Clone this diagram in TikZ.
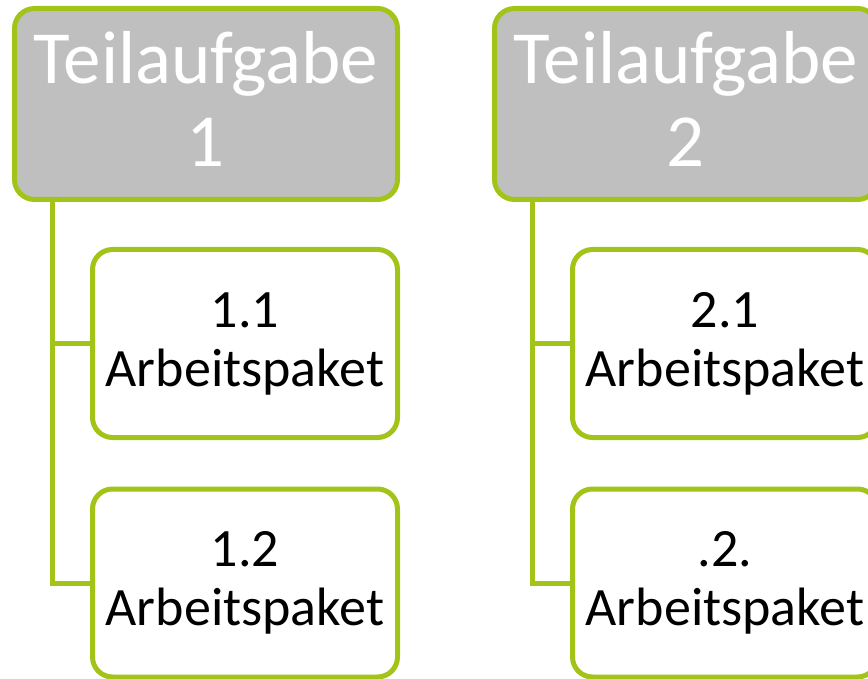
\documentclass[tikz,border=0pt]{standalone}
\usepackage{fontspec}
\setmainfont{Carlito}
\definecolor{leaf}{RGB}{162,196,24}
\definecolor{boxgray}{RGB}{191,191,191}
\begin{document}
\begin{tikzpicture}[x=1pt,y=1pt,
  topbox/.style={draw=leaf, line width=5pt, fill=boxgray, rounded corners=20pt,
    minimum width=383pt, minimum height=191pt, inner sep=0pt, outer sep=0pt},
  toptext/.style={align=center, text=white, inner sep=0pt, font=\fontsize{75}{83}\selectfont},
  subbox/.style={draw=leaf, line width=5pt, fill=white, rounded corners=20pt,
    minimum width=305pt, minimum height=188pt, inner sep=0pt, outer sep=0pt,
    align=center, text=black, font=\fontsize{54}{59}\selectfont},
  conn/.style={draw=leaf, line width=5pt}]
\useasboundingbox (0,0) rectangle (868,-679);
\clip (0,0) rectangle (868,-679);
\node[topbox] (t1) at (206,-104) {};
\node[toptext, yshift=5pt] (l1) at (t1.center) {Teilaufgabe\\1};
\node[topbox] (t2) at (686,-104) {};
\node[toptext, yshift=5pt] (l2) at (t2.center) {Teilaufgabe\\2};
\node[subbox] (a11) at (245,-343.5) {1.1\\Arbeitspaket};
\node[subbox] (a12) at (245,-583) {1.2\\Arbeitspaket};
\node[subbox] (a21) at (725,-343.5) {2.1\\Arbeitspaket};
\node[subbox] (a22) at (725,-583) {.2.\\Arbeitspaket};
\coordinate (s1) at (52,-199.5);
\coordinate (s2) at (532,-199.5);
\draw[conn] (s1) |- (a12.west);
\draw[conn] (s1 |- a11.west) -- (a11.west);
\draw[conn] (s2) |- (a22.west);
\draw[conn] (s2 |- a21.west) -- (a21.west);
\end{tikzpicture}
\end{document}
